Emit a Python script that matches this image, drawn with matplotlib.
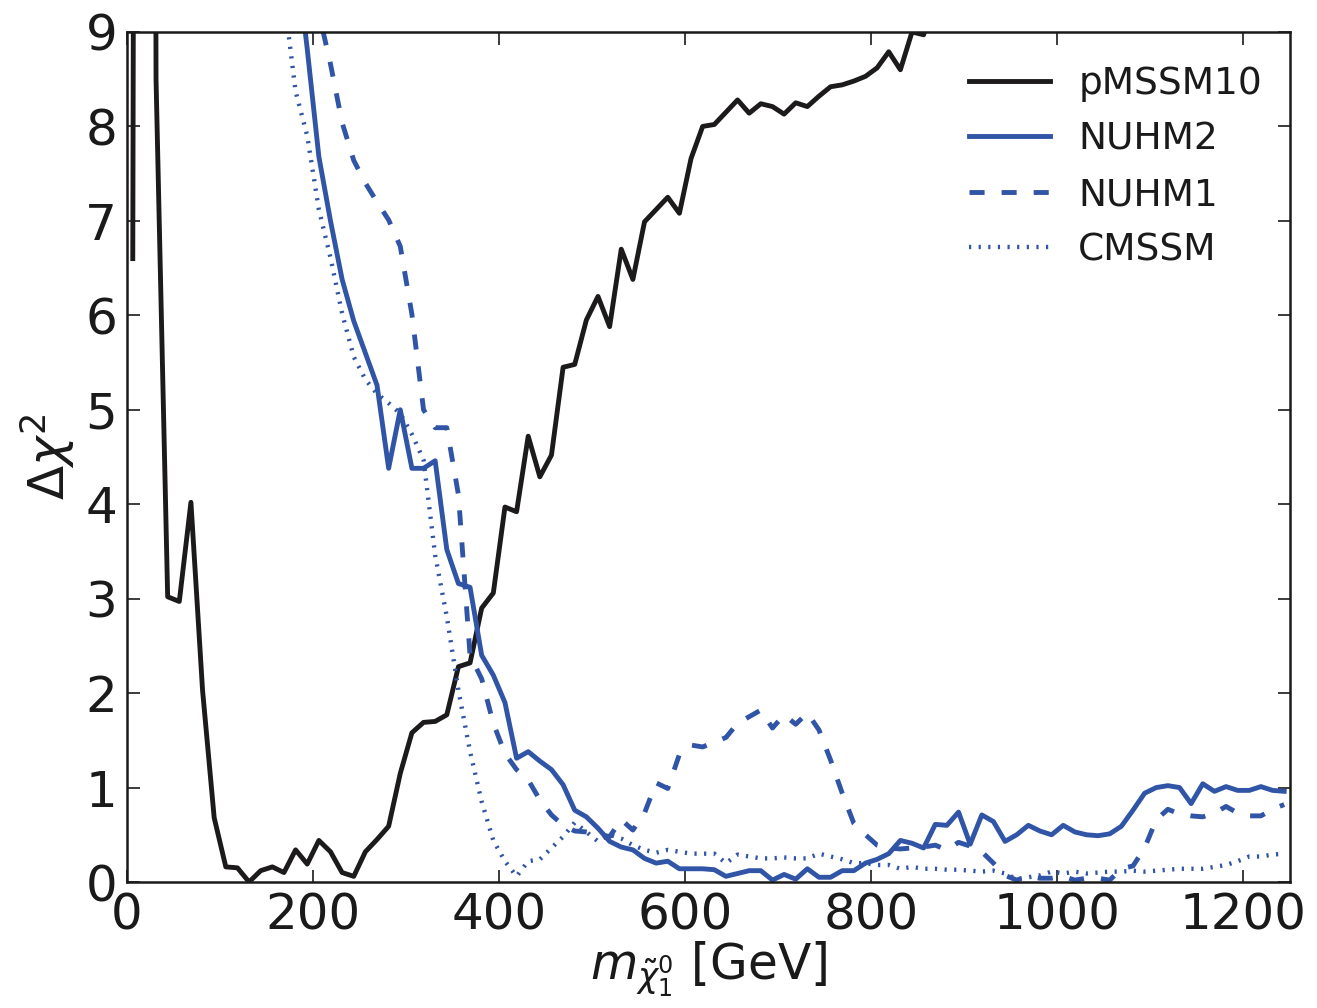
import numpy as np
import matplotlib
matplotlib.use("Agg")
import matplotlib.pyplot as plt

# neutralino mass bins (GeV): 12.5 GeV wide, starting at 0
bin_width = 12.5
bin_start = 0.0

# Delta chi^2 profiles, one value per bin; each list starts at the given bin index
pmssm10_first_bin = 0
pmssm10 = [6.6, 60.0, 8.5, 3.02, 2.97, 4.02, 2.03, 0.68, 0.16, 0.15,
           0.0, 0.12, 0.16, 0.10, 0.34, 0.19, 0.44, 0.32, 0.10, 0.06,
           0.32, 0.45, 0.59, 1.15, 1.58, 1.69, 1.70, 1.77, 2.28, 2.32,
           2.90, 3.06, 3.97, 3.92, 4.72, 4.29, 4.52, 5.45, 5.48, 5.95,
           6.20, 5.88, 6.70, 6.38, 6.99, 7.12, 7.25, 7.08, 7.66, 8.00,
           8.02, 8.15, 8.28, 8.14, 8.24, 8.21, 8.13, 8.25, 8.21, 8.32,
           8.42, 8.44, 8.48, 8.53, 8.62, 8.79, 8.60, 9.00, 8.97, 9.40]

nuhm2_first_bin = 14
nuhm2 = [9.9, 8.82, 7.68, 7.00, 6.38, 5.94, 5.60, 5.26, 4.38, 5.00,
         4.38, 4.38, 4.46, 3.52, 3.16, 3.12, 2.40, 2.19, 1.90, 1.31,
         1.38, 1.28, 1.19, 1.03, 0.76, 0.69, 0.57, 0.43, 0.37, 0.34,
         0.25, 0.20, 0.22, 0.14, 0.14, 0.14, 0.13, 0.06, 0.09, 0.12,
         0.12, 0.02, 0.08, 0.03, 0.14, 0.05, 0.05, 0.12, 0.12, 0.20,
         0.24, 0.30, 0.44, 0.41, 0.36, 0.61, 0.60, 0.74, 0.40, 0.71,
         0.64, 0.43, 0.50, 0.60, 0.54, 0.50, 0.60, 0.53, 0.50, 0.49,
         0.51, 0.59, 0.76, 0.94, 1.00, 1.02, 1.00, 0.83, 1.04, 0.96,
         1.01, 0.97, 0.97, 1.01, 0.97, 0.96]

nuhm1_first_bin = 15
nuhm1 = [10.5, 9.2, 8.66, 8.04, 7.64, 7.40, 7.20, 7.01, 6.73, 6.01,
         5.00, 4.81, 4.81, 4.10, 2.40, 2.15, 1.68, 1.36, 1.19, 1.08,
         0.87, 0.71, 0.60, 0.54, 0.53, 0.51, 0.48, 0.66, 0.55, 0.73,
         1.05, 0.99, 1.35, 1.45, 1.43, 1.48, 1.53, 1.68, 1.75, 1.82,
         1.63, 1.77, 1.67, 1.79, 1.61, 1.29, 0.94, 0.62, 0.50, 0.39,
         0.36, 0.35, 0.36, 0.37, 0.39, 0.34, 0.42, 0.38, 0.32, 0.20,
         0.07, 0.02, 0.06, 0.04, 0.04, 0.06, 0.02, 0.04, 0.04, 0.02,
         0.14, 0.17, 0.36, 0.66, 0.77, 0.72, 0.70, 0.69, 0.73, 0.80,
         0.73, 0.70, 0.70, 0.77, 0.82]

cmssm_first_bin = 13
cmssm = [9.37, 8.37, 7.90, 7.12, 6.61, 6.02, 5.56, 5.32, 5.17, 5.07,
         4.96, 4.74, 4.47, 3.46, 2.81, 2.03, 1.38, 0.85, 0.44, 0.22,
         0.06, 0.22, 0.24, 0.36, 0.48, 0.63, 0.53, 0.43, 0.50, 0.46,
         0.39, 0.34, 0.31, 0.34, 0.32, 0.30, 0.30, 0.30, 0.20, 0.29,
         0.27, 0.25, 0.25, 0.26, 0.25, 0.25, 0.30, 0.27, 0.24, 0.20,
         0.20, 0.18, 0.18, 0.14, 0.16, 0.14, 0.14, 0.13, 0.13, 0.12,
         0.11, 0.12, 0.09, 0.03, 0.05, 0.07, 0.11, 0.09, 0.11, 0.09,
         0.10, 0.11, 0.11, 0.12, 0.11, 0.12, 0.13, 0.14, 0.14, 0.14,
         0.16, 0.18, 0.22, 0.27, 0.27, 0.29, 0.30]


def bin_centres(first_bin, values):
    idx = np.arange(first_bin, first_bin + len(values))
    return bin_start + bin_width * (idx + 0.5)


blue = "#3054a6"
black = "#1c1a1a"

plt.rcParams["font.family"] = "DejaVu Sans"
plt.rcParams["mathtext.fontset"] = "dejavusans"

fig = plt.figure(figsize=(13.17, 10.08), dpi=100)
ax = fig.add_axes([0.0964, 0.125, 0.8831, 0.8433])

lw = 3.5
ax.plot(bin_centres(pmssm10_first_bin, pmssm10), pmssm10, color=black, lw=lw,
        label="pMSSM10")
ax.plot(bin_centres(nuhm2_first_bin, nuhm2), nuhm2, color=blue, lw=lw,
        label="NUHM2")
ax.plot(bin_centres(nuhm1_first_bin, nuhm1), nuhm1, color=blue, lw=lw,
        dashes=(3.1, 3.5), label="NUHM1")
ax.plot(bin_centres(cmssm_first_bin, cmssm), cmssm, color=blue, lw=lw * 0.9,
        dashes=(0.5, 1.7), label="CMSSM")

ax.set_xlim(0, 1250)
ax.set_ylim(0, 9)
ax.set_xticks(range(0, 1201, 200))
ax.set_yticks(range(0, 10))
ax.tick_params(direction="in", top=True, right=True, length=9, width=1.2,
               labelsize=36, pad=7, colors="#1a1a1a")
for s in ax.spines.values():
    s.set_linewidth(1.8)
    s.set_color("#1a1a1a")

ax.set_xlabel(r"$m_{\tilde{\chi}^0_1}$ [GeV]", fontsize=35, labelpad=0,
              color="#1a1a1a")
ax.set_ylabel(r"$\Delta\chi^2$", fontsize=36, labelpad=6, color="#1a1a1a")

leg = ax.legend(loc="upper right", bbox_to_anchor=(1.0, 0.993),
                frameon=False, fontsize=27,
                handlelength=2.15, handletextpad=0.75, labelspacing=0.52,
                borderaxespad=0.35)
for t in leg.get_texts():
    t.set_color("#1a1a1a")

fig.savefig("out.png", dpi=100)
